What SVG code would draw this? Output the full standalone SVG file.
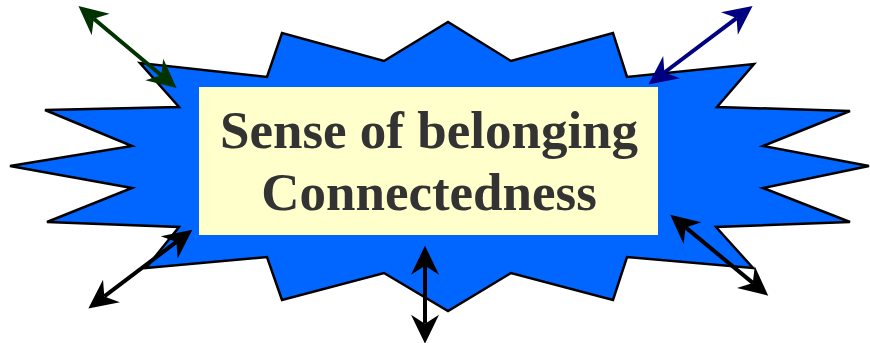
<svg xmlns="http://www.w3.org/2000/svg" width="870" height="343" viewBox="0 0 870 343">
<style>
.star{fill:#0066FF;stroke:#000;stroke-width:2.5;stroke-linejoin:miter}
.box{fill:#FFFFCC}
.lbl{font-family:"Liberation Serif","Times New Roman",serif;font-weight:bold;font-size:53px;fill:#333333;text-anchor:middle}
.conn line{stroke-width:4;fill:none}
</style>
<defs>
<marker id="hk" markerUnits="userSpaceOnUse" orient="auto-start-reverse" refX="0" refY="0" markerWidth="40" markerHeight="40" overflow="visible">
<path d="M20,0 L-9,-14 L0,0 L-9,14 Z" fill="#000"/>
</marker>
<marker id="hg" markerUnits="userSpaceOnUse" orient="auto-start-reverse" refX="0" refY="0" markerWidth="40" markerHeight="40" overflow="visible">
<path d="M20,0 L-9,-14 L0,0 L-9,14 Z" fill="#003300"/>
</marker>
<marker id="hn" markerUnits="userSpaceOnUse" orient="auto-start-reverse" refX="0" refY="0" markerWidth="40" markerHeight="40" overflow="visible">
<path d="M20,0 L-9,-14 L0,0 L-9,14 Z" fill="#000080"/>
</marker>
</defs>
<g id="burst">
<polygon class="star" points="10,166 132,146 45,110 179,107 140,63 267,77 282,33 384,61 448,22 511,61 613,33 627,77 754,64 717,107 850,111 763,146 869,166 763,188 850,222 716,227 753,268 627,257 613,300 511,273 448,311 384,273 282,300 267,257 146,268 179,227 47,222 132,188"/>
</g>
<g id="label">
<rect class="box" x="199" y="87" width="459" height="148"/>
<text class="lbl" x="429" y="148">Sense of belonging</text>
<text class="lbl" x="429" y="210">Connectedness</text>
</g>
<g id="connectors" class="conn">
<line x1="93.8" y1="18.8" x2="161.2" y2="75.2" stroke="#003300" marker-start="url(#hg)" marker-end="url(#hg)"/>
<line x1="736.6" y1="18.1" x2="664.4" y2="72.5" stroke="#000080" marker-start="url(#hn)" marker-end="url(#hn)"/>
<line x1="176.4" y1="241.9" x2="104.3" y2="296.4" stroke="#000" marker-start="url(#hk)" marker-end="url(#hk)"/>
<line x1="685.6" y1="227.4" x2="752.8" y2="282.9" stroke="#000" marker-start="url(#hk)" marker-end="url(#hk)"/>
<line x1="425" y1="265.7" x2="425" y2="323.7" stroke="#000" marker-start="url(#hk)" marker-end="url(#hk)"/>
</g>
</svg>
